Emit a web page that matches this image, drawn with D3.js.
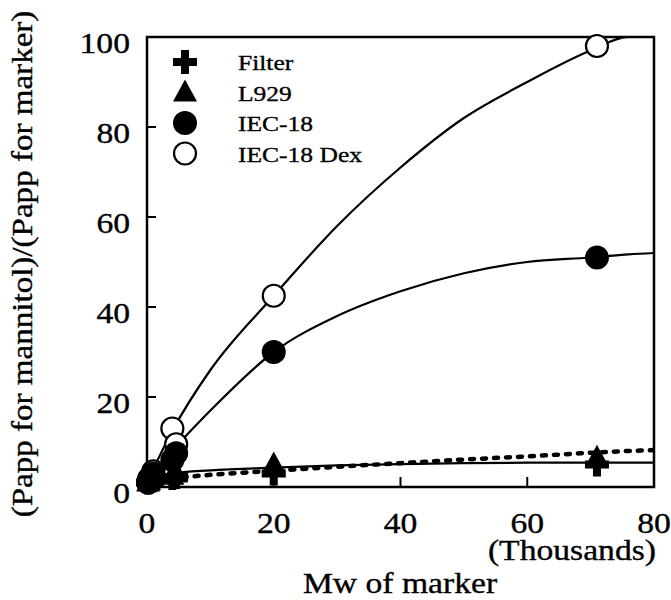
<!DOCTYPE html>
<html>
<head>
<meta charset="utf-8">
<script src="https://cdn.jsdelivr.net/npm/d3@7"></script>
<style>
  body { margin: 0; background: #fff; }
  svg text {
    font-family: "Liberation Serif", "DejaVu Serif", serif;
    fill: #000;
    stroke: #000;
    stroke-width: 0.35px;
  }
</style>
</head>
<body>
<svg id="chart" width="671" height="600"></svg>
<script>
// -----------------------------
// Data
// -----------------------------
const mwMarkers = [0.18, 0.34, 1, 4, 4.6, 20, 71];

const filterVals = [1, 1.1, 1.5, 2, 2.2, 3, 5];
const l929Vals = [1, 1.3, 1.8, 2.5, 3, 5, 6.5];
const iec18Vals = [1, 1.6, 3, 6, 7.5, 30, 51];
const iec18DexVals = [1, 1.8, 3.5, 13, 9.5, 42.5, 98];

// fitted curves, points
const fitX = [0, 4, 10, 20, 30, 40, 50, 60, 70, 76, 80];
const dexFit = [1, 12.5, 26, 42.5, 58, 71, 82, 90, 97, 100, 100];
const iecFit = [1, 8, 17, 30, 38, 43.5, 47.5, 50, 51, 51.7, 52];
const solidLowFit = [1, 3, 3.7, 4.3, 4.8, 5.1, 5.3, 5.4, 5.4, 5.4, 5.4];
const dottedLowFit = [1, 1.9, 2.7, 3.6, 4.5, 5.3, 6.1, 6.8, 7.6, 8, 8.2];

const xTicks = [0, 20, 40, 60, 80];
const yTicks = [0, 20, 40, 60, 80, 100];

const legendNames = ["Filter", "L929", "IEC-18", "IEC-18 Dex"];

// -----------------------------
// Layout
// -----------------------------
const svg = d3.select("#chart");
const plotL = 147, plotR = 654, plotT = 37, plotB = 487;
const stretch = 1.16; // scanned type is wider than it is tall

const x = d3.scaleLinear().domain([0, 80]).range([plotL, plotR]);
const y = d3.scaleLinear().domain([0, 100]).range([plotB, plotT]);

svg.append("defs").append("clipPath").attr("id", "plotClip")
  .append("rect")
  .attr("x", plotL).attr("y", plotT)
  .attr("width", plotR - plotL).attr("height", plotB - plotT);

function label(g, tx, ty, str, size, anchor, rot = 0) {
  return g.append("text")
    .attr("transform", `translate(${tx},${ty}) rotate(${rot}) scale(${stretch},1)`)
    .attr("text-anchor", anchor)
    .style("font-size", size + "px")
    .text(str);
}

// -----------------------------
// Frame + ticks
// -----------------------------
svg.append("rect")
  .attr("x", plotL).attr("y", plotT)
  .attr("width", plotR - plotL).attr("height", plotB - plotT)
  .attr("fill", "none")
  .attr("stroke", "#000")
  .attr("stroke-width", 2.5);

svg.append("g")
  .selectAll("line")
  .data(yTicks.slice(1, -1))
  .join("line")
  .attr("x1", plotL).attr("x2", plotL + 9)
  .attr("y1", (d) => y(d)).attr("y2", (d) => y(d))
  .attr("stroke", "#000").attr("stroke-width", 2);

svg.append("g")
  .selectAll("line")
  .data(xTicks.slice(1, -1))
  .join("line")
  .attr("x1", (d) => x(d)).attr("x2", (d) => x(d))
  .attr("y1", plotB).attr("y2", plotB - 10)
  .attr("stroke", "#000").attr("stroke-width", 2);

const axisText = svg.append("g");
yTicks.forEach((d) => label(axisText, plotL - 17, y(d) + 16, d, 29, "end"));
xTicks.forEach((d) => label(axisText, x(d), 533, d, 29, "middle"));

label(axisText, plotR + 2, 560, "(Thousands)", 29, "end");
label(axisText, 400, 593, "Mw of marker", 29, "middle");
label(axisText, 32, 264, "(Papp for mannitol)/(Papp for marker)", 28.5, "middle", -90);

// -----------------------------
// Fitted curves
// -----------------------------
const plot = svg.append("g").attr("clip-path", "url(#plotClip)");

function curveLine(vals) {
  return d3.line()
    .x((d, i) => x(fitX[i]))
    .y((d) => y(d))
    .curve(d3.curveMonotoneX)(vals);
}

[dexFit, iecFit, solidLowFit].forEach((vals) => {
  plot.append("path")
    .attr("d", curveLine(vals))
    .attr("fill", "none")
    .attr("stroke", "#000")
    .attr("stroke-width", 2.2);
});

plot.append("path")
  .attr("d", curveLine(dottedLowFit))
  .attr("fill", "none")
  .attr("stroke", "#000")
  .attr("stroke-width", 4.5)
  .attr("stroke-linecap", "round")
  .attr("stroke-dasharray", "4,8");

// -----------------------------
// Markers
// -----------------------------
const crossPath = (cx, cy) => {
  const a = 4, b = 12;
  return `M${cx - a},${cy - b}h${2 * a}v${b - a}h${b - a}v${2 * a}h${a - b}v${b - a}h${-2 * a}v${a - b}h${a - b}v${-2 * a}h${b - a}z`;
};
const triPath = (cx, cy) => `M${cx},${cy - 13}L${cx + 12},${cy + 9}L${cx - 12},${cy + 9}z`;

function drawMarker(g, type, cx, cy) {
  if (type === 0) {
    g.append("path").attr("d", crossPath(cx, cy)).attr("fill", "#000");
  } else if (type === 1) {
    g.append("path").attr("d", triPath(cx, cy)).attr("fill", "#000");
  } else if (type === 2) {
    g.append("circle").attr("cx", cx).attr("cy", cy).attr("r", 12).attr("fill", "#000");
  } else {
    g.append("circle").attr("cx", cx).attr("cy", cy).attr("r", 11)
      .attr("fill", "#fff").attr("stroke", "#000").attr("stroke-width", 2.2);
  }
}

const series = [filterVals, l929Vals, iec18Vals, iec18DexVals];
const markG = svg.append("g");
[3, 2, 1, 0].forEach((k) => {
  series[k].forEach((v, i) => drawMarker(markG, k, x(mwMarkers[i]), y(v)));
});

// -----------------------------
// Legend
// -----------------------------
const legend = svg.append("g");
legendNames.forEach((name, i) => {
  const ly = 62 + i * 30.5;
  drawMarker(legend, i, 185, ly);
  label(legend, 238, ly + 8, name, 22, "start");
});
</script>
</body>
</html>
